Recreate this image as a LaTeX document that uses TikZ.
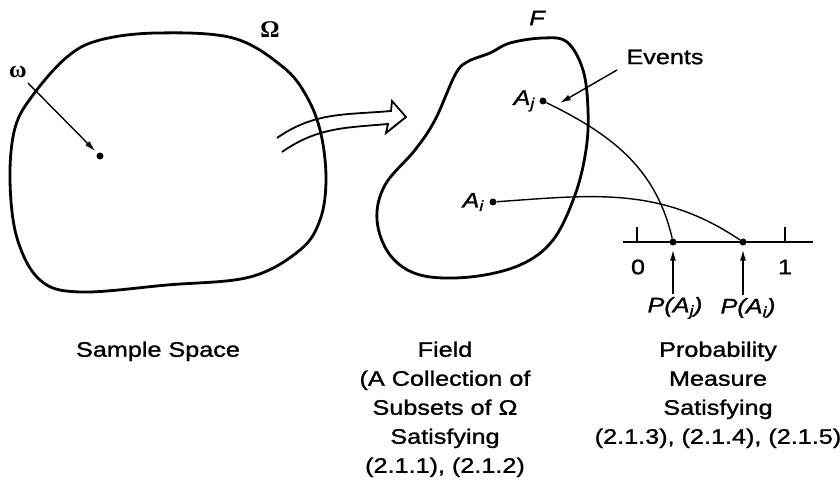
\documentclass[tikz,border=0pt]{standalone}
\usepackage{amsmath, amssymb}
\usepackage{fontspec}
\setmainfont{Liberation Sans}[FakeStretch=1.2,
    UprightFeatures={FakeBold=1.2}, ItalicFeatures={FakeBold=1.2}]
\newfontfamily\greekserif{Liberation Serif}
\usepackage{tikz}
\usetikzlibrary{arrows.meta, positioning, calc}

\begin{document}
\begin{tikzpicture}[
    x=1pt, y=1pt,
    font=\fontsize{21}{29}\selectfont,
    dot/.style={circle, fill, inner sep=0pt, minimum size=7pt},
    blob/.style={line width=2.8pt},
    link/.style={line width=1.4pt},
    pointer/.style={line width=1.4pt, -{Latex[length=11pt, width=6pt]}},
    caption/.style={align=center}
]
    \useasboundingbox (0,0) rectangle (840,498);

    % sample space
    \draw[blob] plot[smooth cycle, tension=0.6] coordinates {
        (157,465) (233,460) (283,431) (307,401) (321,364) (326,318)
        (320,278) (300,248) (250,221) (167,213) (80,206) (40,218)
        (17,260) (10,318) (15,370) (33,403) (67,441) (100,458)};
    \node (omega) at (270,468) {\fontsize{24}{24}\selectfont\greekserif\bfseries Ω};
    \node (wlabel) at (18,426) {\fontsize{24}{24}\selectfont\greekserif\bfseries ω};
    \node[dot] (w) at (100,342) {};
    \coordinate (wtail) at (28,415);
    \draw[pointer, shorten >=3pt] (wtail) -- (w);

    % hollow arrow
    \draw[line width=1.8pt] (277,360) to[out=35, in=185] (391,387)
        -- (392,397) -- (406,381) -- (386,365) -- (388,374)
        to[out=185, in=35] (282,346);

    % field
    \draw[blob] plot[smooth cycle, tension=0.6] coordinates {
        (543,460) (567,456) (583,428) (588,388) (586,348) (575,303)
        (553,258) (520,233) (470,221) (420,223) (390,243) (377,278)
        (385,313) (415,348) (435,378) (455,423) (467,436) (490,445)
        (510,455)};
    \node (field) at (537,480) {\itshape F};
    \node[dot] (aj) at (543,397) {};
    \node[dot] (ai) at (493,296) {};
    \node[left=1pt of aj] (ajlabel) {\itshape A\textsubscript{j}};
    \node[left=2pt of ai] (ailabel) {\itshape A\textsubscript{i}};
    \node (events) at (665,441) {Events};
    \coordinate (etail) at (617,428);
    \coordinate (etip) at (560,395);
    \draw[pointer] (etail) -- (etip);

    % measure
    \coordinate (lineleft) at (623,256);
    \coordinate (lineright) at (813,256);
    \draw[line width=2.2pt] (lineleft) -- (lineright);
    \foreach \x in {637, 785}
        \draw[link] (\x,256) -- (\x,271);
    \node (zero) at (638,231) {0};
    \node (one) at (785,231) {1};
    \node[dot] (pj) at (673,256) {};
    \node[dot] (pi) at (743,256) {};
    \node (pjlabel) at (675,190) {\itshape P(A\textsubscript{j})};
    \node (pilabel) at (748,190) {\itshape P(A\textsubscript{i})};
    \draw[pointer, shorten >=4pt] (pjlabel.north -| pj) -- (pj);
    \draw[pointer, shorten >=4pt] (pilabel.north -| pi) -- (pi);

    \draw[link] (aj) to[out=-26, in=103] (pj);
    \draw[link] (ai) to[out=4, in=146] (pi);

    % captions
    \node[caption, anchor=north] (sample) at (158,160) {Sample Space};
    \node[caption, anchor=north] (fieldtext) at (445,160)
        {Field\\(A Collection of\\Subsets of Ω\\Satisfying\\(2.1.1), (2.1.2)};
    \node[caption, anchor=north] (measure) at (718,160)
        {Probability\\Measure\\Satisfying\\(2.1.3), (2.1.4), (2.1.5)};
\end{tikzpicture}
\end{document}
